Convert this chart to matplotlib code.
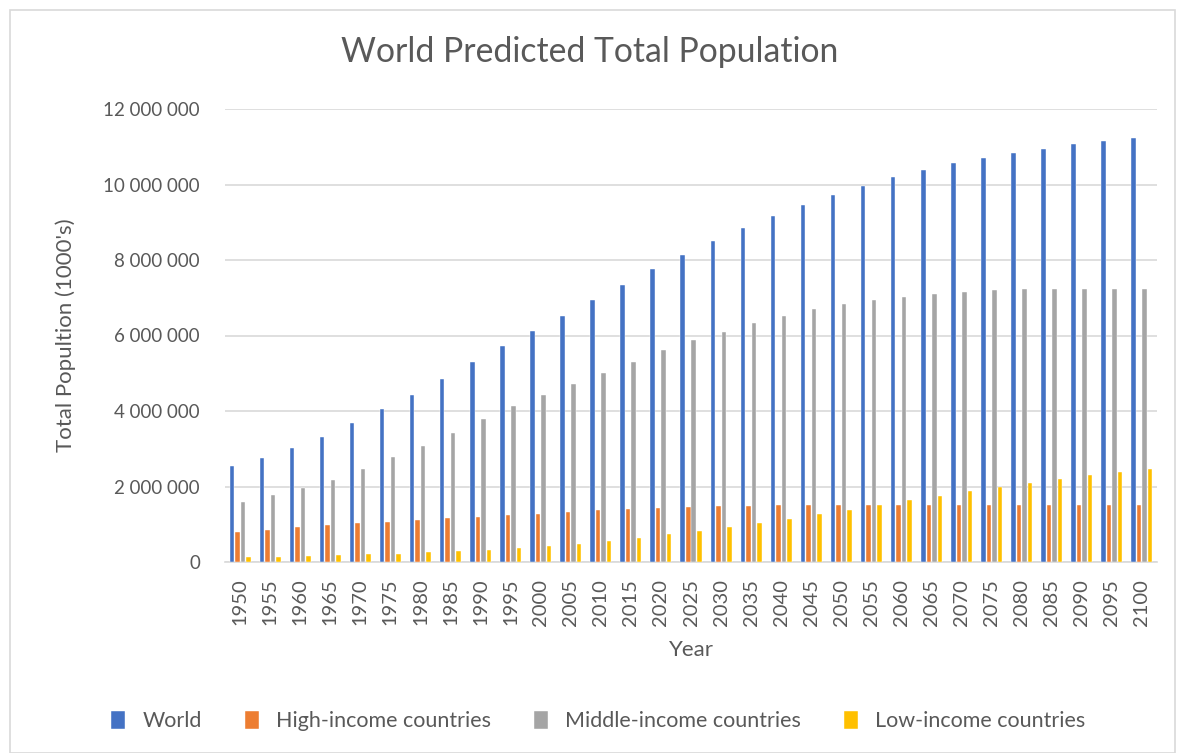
import numpy as np
import matplotlib.pyplot as plt
from matplotlib.patches import Rectangle
from matplotlib.ticker import FuncFormatter

plt.rcParams['font.family'] = ['Lato', 'DejaVu Sans']

years = list(range(1950, 2101, 5))

# population in thousands
world = [2530000, 2760000, 3010000, 3320000, 3670000, 4050000, 4430000, 4850000,
         5310000, 5730000, 6130000, 6520000, 6930000, 7350000, 7760000, 8140000,
         8500000, 8840000, 9160000, 9450000, 9730000, 9970000, 10190000, 10380000,
         10560000, 10710000, 10840000, 10950000, 11060000, 11150000, 11220000]
high_income = [800000, 850000, 920000, 970000, 1020000, 1070000, 1110000, 1160000,
               1200000, 1240000, 1280000, 1320000, 1370000, 1400000, 1430000, 1450000,
               1480000, 1490000, 1500000, 1500000, 1510000, 1510000, 1510000, 1510000,
               1510000, 1510000, 1510000, 1510000, 1510000, 1510000, 1510000]
middle_income = [1590000, 1770000, 1950000, 2180000, 2460000, 2770000, 3070000, 3420000,
                 3780000, 4120000, 4420000, 4710000, 5000000, 5310000, 5610000, 5870000,
                 6100000, 6320000, 6510000, 6690000, 6830000, 6930000, 7030000, 7110000,
                 7160000, 7200000, 7230000, 7240000, 7240000, 7240000, 7230000]
low_income = [120000, 140000, 160000, 180000, 200000, 220000, 260000, 280000,
              320000, 360000, 420000, 490000, 560000, 640000, 730000, 820000,
              930000, 1030000, 1150000, 1260000, 1390000, 1500000, 1630000, 1760000,
              1870000, 1990000, 2100000, 2200000, 2300000, 2390000, 2470000]

series = [
    ('World', world, '#4472C4'),
    ('High-income countries', high_income, '#ED7D31'),
    ('Middle-income countries', middle_income, '#A5A5A5'),
    ('Low-income countries', low_income, '#FFC000'),
]

text_col = '#595959'
grid_col = '#D9D9D9'

fig = plt.figure(figsize=(11.8, 7.53), dpi=100)
ax = fig.add_axes([225 / 1180, 1 - 562 / 753, (1157 - 225) / 1180, (562 - 109) / 753])

# light frame around the whole chart
fig.patches.append(Rectangle((10 / 1180, 0), 1165 / 1180, 1 - 10 / 753,
                             transform=fig.transFigure, fill=False,
                             edgecolor=grid_col, linewidth=1.2))

x = np.arange(len(years))
pitch = 0.183
width = 0.15
for i, (name, vals, col) in enumerate(series):
    ax.bar(x + (i - 1.5) * pitch, vals, width, color=col, label=name,
           edgecolor='white', linewidth=0.3, zorder=3)

ax.set_xlim(-0.5, len(years) - 0.5)
ax.set_ylim(0, 12000000)
ax.set_yticks(np.arange(0, 12000001, 2000000))
ax.yaxis.set_major_formatter(FuncFormatter(lambda v, p: f'{int(v):,}'.replace(',', ' ')))
ax.set_xticks(x)
ax.set_xticklabels(years, rotation=90)
ax.grid(axis='y', color=grid_col, linewidth=1.2, zorder=0)
for s in ['top', 'right', 'left']:
    ax.spines[s].set_visible(False)
ax.spines['bottom'].set_color(grid_col)
ax.spines['bottom'].set_linewidth(1.2)
ax.tick_params(length=0, labelsize=14.5, colors=text_col, pad=12)
ax.tick_params(axis='y', labelsize=13.5, pad=18)

ax.set_xlabel('Year', fontsize=16, color=text_col, labelpad=10)
ax.set_ylabel("Total Popultion (1000's)", fontsize=16, color=text_col, labelpad=20)
fig.text(0.5, 1 - 52 / 753, 'World Predicted Total Population', ha='center', va='center',
         fontsize=24.3, color=text_col)

fig.legend(loc='center', bbox_to_anchor=(0.507, 1 - 721 / 753), ncol=4, frameon=False,
           fontsize=15.5, handlelength=0.65, handleheight=0.9, columnspacing=2.0,
           handletextpad=0.8, labelcolor=text_col)

fig.savefig('out.png', dpi=100)
